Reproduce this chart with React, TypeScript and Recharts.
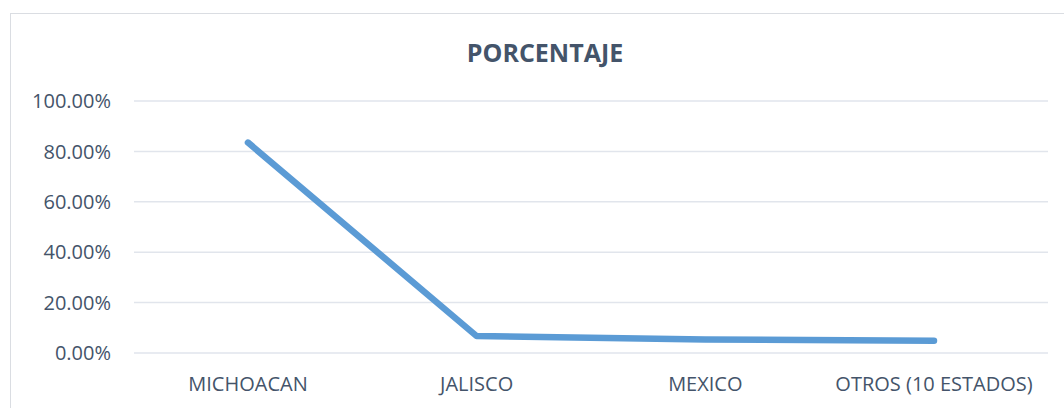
import React from 'react';
import { LineChart, Line, XAxis, YAxis, CartesianGrid } from 'recharts';

const estados = ['MICHOACAN', 'JALISCO', 'MEXICO', 'OTROS (10 ESTADOS)'];
const porcentaje = [83.5, 6.7, 5.4, 4.9];
const yTicks = [0, 20, 40, 60, 80, 100];

const data = estados.map((estado, i) => ({ estado, porcentaje: porcentaje[i] }));

const textColor = '#44546a';
const font = '"Open Sans", sans-serif';

export default function App() {
  return (
    <div
      style={{
        position: 'absolute',
        left: 0,
        top: 0,
        width: 1064,
        height: 408,
        overflow: 'hidden',
        background: '#fff',
        fontFamily: font,
      }}
    >
      {/* chart frame, cropped on the right and bottom like the source */}
      <div
        style={{
          position: 'absolute',
          left: 10,
          top: 13,
          width: 1100,
          height: 450,
          border: '1.5px solid #dadde2',
          boxSizing: 'border-box',
        }}
      />
      <div
        style={{
          position: 'absolute',
          left: 0,
          top: 40,
          width: 1090,
          textAlign: 'center',
          fontSize: 25,
          lineHeight: '25px',
          fontWeight: 700,
          color: textColor,
        }}
      >
        PORCENTAJE
      </div>
      <div style={{ position: 'absolute', left: 0, top: 0 }}>
        <LineChart
          width={1064}
          height={408}
          data={data}
          margin={{ top: 101, right: 16, bottom: 25, left: 0 }}
        >
          <CartesianGrid vertical={false} stroke="#e1e5ec" strokeWidth={1.5} />
          <XAxis
            dataKey="estado"
            axisLine={false}
            tickLine={false}
            tickSize={0}
            tickMargin={24}
            height={30}
            interval={0}
            padding={{ left: 114, right: 114 }}
            tick={{ fill: textColor, fontSize: 20, fontFamily: font }}
          />
          <YAxis
            domain={[0, 100]}
            ticks={yTicks}
            width={134}
            axisLine={false}
            tickLine={false}
            tickSize={0}
            tickMargin={23}
            tickFormatter={(v: number) => v.toFixed(2) + '%'}
            tick={{ fill: textColor, fontSize: 20, fontFamily: font }}
          />
          <Line
            type="linear"
            dataKey="porcentaje"
            stroke="#5b9bd5"
            strokeWidth={6.5}
            strokeLinecap="round"
            strokeLinejoin="round"
            dot={false}
            activeDot={false}
            isAnimationActive={false}
          />
        </LineChart>
      </div>
    </div>
  );
}
